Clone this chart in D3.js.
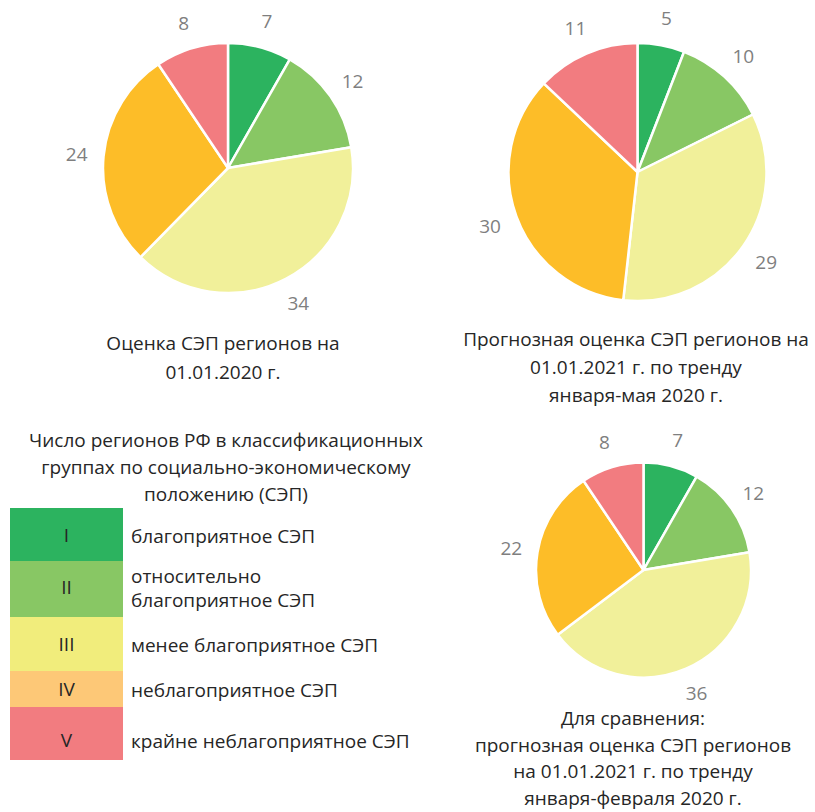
<!DOCTYPE html>
<meta charset="utf-8">
<style>
	body { margin: 0; background: #fff; }
	text { font-family: "Open Sans", "Noto Sans", sans-serif; }
	.lbl { fill: #7f7f7f; font-size: 19px; }
	.ttl { fill: #262626; font-size: 19px; }
</style>
<svg width="815" height="812"></svg>
<script src="https://cdn.jsdelivr.net/npm/d3@7/dist/d3.min.js"></script>
<script>

// classification groups
var groups = ["I", "II", "III", "IV", "V"];
var groupNames = [
	["благоприятное СЭП"],
	["относительно", "благоприятное СЭП"],
	["менее благоприятное СЭП"],
	["неблагоприятное СЭП"],
	["крайне неблагоприятное СЭП"]
];

// number of regions per group
var values2020 = [7, 12, 34, 24, 8];
var valuesMay = [5, 10, 29, 30, 11];
var valuesFeb = [7, 12, 36, 22, 8];

var title2020 = ["Оценка СЭП регионов на", "01.01.2020 г."];
var titleMay = ["Прогнозная оценка СЭП регионов на", "01.01.2021 г. по тренду", "января-мая 2020 г."];
var titleFeb = ["Для сравнения:", "прогнозная оценка СЭП регионов", "на 01.01.2021 г. по тренду", "января-февраля 2020 г."];
var legendTitle = ["Число регионов РФ в классификационных", "группах по социально-экономическому", "положению (СЭП)"];

var pieColor = d3.scaleOrdinal().domain(groups)
	.range(["#2cb35f", "#88c764", "#f1f09a", "#fdbd28", "#f27c80"]);
var legendColor = d3.scaleOrdinal().domain(groups)
	.range(["#2cb35f", "#88c764", "#f1ed7c", "#fdc877", "#f27c80"]);

var svg = d3.select("svg");

var pie = d3.pie().sort(null).value(function(d) { return d; });

function drawPie(values, cx, cy, r, labelR) {
	var g = svg.append("g").attr("transform", "translate(" + cx + "," + cy + ")");
	var arc = d3.arc().innerRadius(0).outerRadius(r);
	var labelArc = d3.arc().innerRadius(labelR).outerRadius(labelR);
	var arcs = pie(values);

	g.selectAll("path")
		.data(arcs).enter().append("path")
		.attr("d", arc)
		.attr("fill", function(d, i) { return pieColor(groups[i]); })
		.attr("stroke", "#fff")
		.attr("stroke-width", 2.5)
		.attr("stroke-linejoin", "round");

	g.selectAll("text")
		.data(arcs).enter().append("text")
		.attr("class", "lbl")
		.attr("transform", function(d) { return "translate(" + labelArc.centroid(d) + ")"; })
		.attr("text-anchor", "middle")
		.attr("dominant-baseline", "central")
		.text(function(d) { return d.data; });
}

function drawLines(lines, cx, y0, step) {
	svg.append("g").selectAll("text")
		.data(lines).enter().append("text")
		.attr("class", "ttl")
		.attr("x", cx)
		.attr("y", function(d, i) { return y0 + i * step; })
		.attr("text-anchor", "middle")
		.attr("dominant-baseline", "central")
		.text(function(d) { return d; });
}

drawPie(values2020, 228, 168, 125, 152);
drawPie(valuesMay, 637.5, 172, 129, 157);
drawPie(valuesFeb, 643.5, 570, 107.5, 134);

drawLines(title2020, 223, 343, 29);
drawLines(titleMay, 636, 339, 28);
drawLines(titleFeb, 633, 718, 26.5);
drawLines(legendTitle, 226, 440, 27);

// legend
var rowH = [53, 56, 54, 36, 53];
var legendTop = 508, boxX = 10, boxW = 113;
var rowY = [];
rowH.reduce(function(acc, h) { rowY.push(acc); return acc + h; }, legendTop);

var row = svg.append("g").selectAll("g")
	.data(groups).enter().append("g")
	.attr("transform", function(d, i) { return "translate(0," + rowY[i] + ")"; });

row.append("rect")
	.attr("x", boxX)
	.attr("width", boxW)
	.attr("height", function(d, i) { return rowH[i]; })
	.attr("fill", function(d) { return legendColor(d); });

row.append("text")
	.attr("class", "ttl")
	.attr("x", boxX + boxW / 2)
	.attr("y", function(d, i) { return rowH[i] / 2 + (i == 4 ? 6 : i == 1 ? -2 : 0); })
	.attr("text-anchor", "middle")
	.attr("dominant-baseline", "central")
	.text(function(d) { return d; });

row.each(function(d, i) {
	var lines = groupNames[i];
	d3.select(this).selectAll("text.name")
		.data(lines).enter().append("text")
		.attr("class", "ttl name")
		.attr("x", 131)
		.attr("y", function(t, j) { return rowH[i] / 2 + (i == 4 ? 7 : i == 1 ? -1 : 1) + (j - (lines.length - 1) / 2) * 24; })
		.attr("dominant-baseline", "central")
		.text(function(t) { return t; });
});

</script>
